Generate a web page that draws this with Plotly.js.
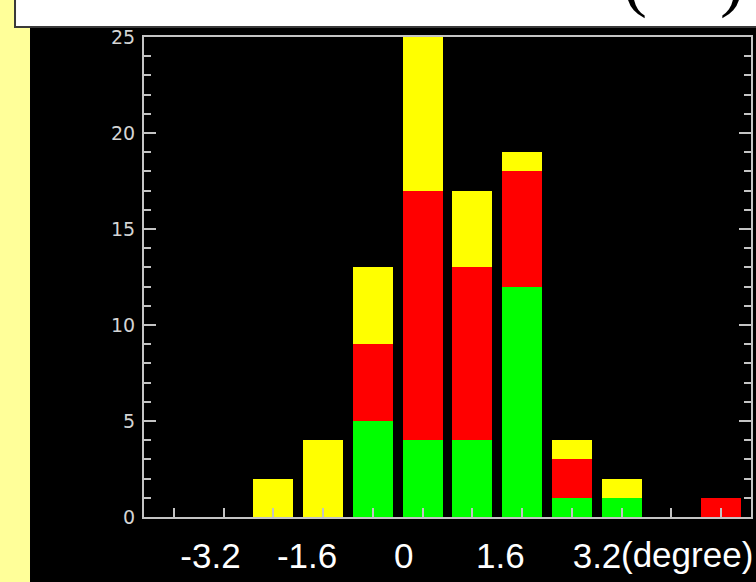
<!DOCTYPE html>
<html>
<head>
<meta charset="utf-8">
<script src="https://cdn.plot.ly/plotly-3.0.1.min.js"></script>
<style>
  html, body { margin: 0; padding: 0; background: #000; }
  #chart { width: 756px; height: 582px; }
</style>
</head>
<body>
<div id="chart"></div>
<script>
// Histogram bins (bin number along the horizontal axis)
const bins = [1, 2, 3, 4, 5, 6, 7, 8, 9, 10, 11, 12];

// Counts per bin, stacked bottom to top: green, red, yellow
const greenCounts  = [0, 0, 0, 0, 5, 4, 4, 12, 1, 1, 0, 0];
const redCounts    = [0, 0, 0, 0, 4, 13, 9, 6, 2, 0, 0, 1];
const yellowCounts = [0, 0, 2, 4, 4, 8, 4, 1, 1, 1, 0, 0];

// Angle labels printed under the plot (degrees)
const degreeTicks  = [-3.2, -1.6, 0, 1.6, 3.2];
const degreeLabels = ['-3.2', '-1.6', '0', '1.6', '3.2'];

const frameColor = '#c4c4c4';
const labelFont = { family: 'Liberation Sans, Arial, sans-serif', size: 35, color: '#ffffff' };

const bar = (y, color) => ({
  type: 'bar', x: bins, y: y,
  marker: { color: color, line: { width: 0 } },
  hoverinfo: 'skip', showlegend: false
});

const traces = [
  bar(greenCounts, '#00ff00'),
  bar(redCounts, '#ff0000'),
  bar(yellowCounts, '#ffff00')
];

const layout = {
  width: 756, height: 582,
  margin: { l: 144, r: 5, t: 37, b: 65 },
  paper_bgcolor: '#000000',
  plot_bgcolor: '#000000',
  barmode: 'stack',
  bargap: 0.195,
  xaxis: {
    range: [0.4, 12.6],
    tickvals: bins,
    showticklabels: false,
    ticks: 'inside', ticklen: 9, tickwidth: 2, tickcolor: frameColor,
    showline: true, linecolor: frameColor, linewidth: 2, mirror: true,
    showgrid: false, zeroline: false, fixedrange: true
  },
  xaxis2: {
    overlaying: 'x', anchor: 'y', side: 'bottom',
    range: [-4.3, 5.75],
    tickvals: degreeTicks, ticktext: degreeLabels,
    ticks: 'outside', ticklen: 8, tickcolor: 'rgba(0,0,0,0)',
    tickfont: labelFont,
    showline: false, showgrid: false, zeroline: false, fixedrange: true
  },
  yaxis: {
    range: [0, 25],
    tickvals: [0, 5, 10, 15, 20, 25],
    ticks: 'inside', ticklen: 12, tickwidth: 2, tickcolor: frameColor,
    minor: { dtick: 1, ticks: 'inside', ticklen: 7, tickwidth: 2, tickcolor: frameColor, showgrid: false },
    tickfont: { family: 'DejaVu Sans, sans-serif', size: 19, color: '#d4d4d4' },
    ticklabelstandoff: 3,
    showline: true, linecolor: frameColor, linewidth: 2, mirror: 'ticks',
    showgrid: false, zeroline: false, fixedrange: true
  },
  shapes: [
    // pale yellow strip along the left edge
    { type: 'rect', xref: 'paper', yref: 'paper', x0: -0.3, x1: -0.1878, y0: -0.2, y1: 1.2,
      fillcolor: '#ffff99', line: { width: 0 }, layer: 'below' },
    // white title box across the top
    { type: 'rect', xref: 'paper', yref: 'paper', x0: -0.2125, x1: 1.05, y0: 1.0208, y1: 1.2,
      fillcolor: '#ffffff', line: { color: '#3a3a3a', width: 2 }, layer: 'above' }
  ],
  annotations: [
    { text: '(', xref: 'paper', yref: 'paper', x: 0.809, y: 1.121,
      xanchor: 'center', yanchor: 'middle', showarrow: false,
      font: { family: 'Liberation Serif, serif', size: 72, color: '#000000' } },
    { text: ')', xref: 'paper', yref: 'paper', x: 0.9687, y: 1.121,
      xanchor: 'center', yanchor: 'middle', showarrow: false,
      font: { family: 'Liberation Serif, serif', size: 72, color: '#000000' } },
    { text: '(degree)', xref: 'x2', yref: 'paper', x: 3.2, y: -0.079,
      xanchor: 'left', yanchor: 'middle', xshift: 22, showarrow: false,
      font: labelFont }
  ]
};

Plotly.newPlot('chart', traces, layout, { displayModeBar: false, staticPlot: true });
</script>
</body>
</html>
